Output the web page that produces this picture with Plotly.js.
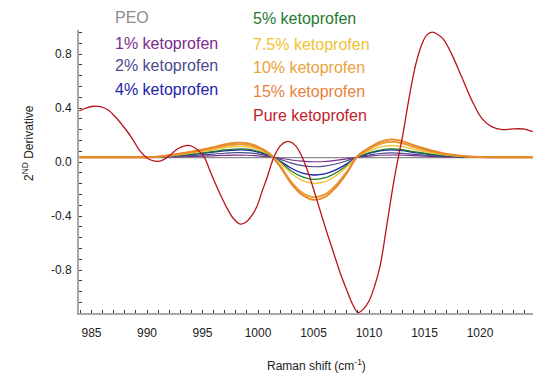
<!DOCTYPE html>
<html>
<head>
<meta charset="utf-8">
<script src="https://cdn.plot.ly/plotly-3.0.1.min.js"></script>
<style>html,body{margin:0;padding:0;background:#fff;}#chart{width:559px;height:378px;}</style>
</head>
<body>
<div id="chart"></div>
<script>
// Shared Raman shift grid for the PEO / ketoprofen blend spectra (cm^-1)
const shiftX = [983.9, 985, 986, 987, 988, 989, 990, 991, 992, 993, 994, 995, 996, 997, 998, 999, 1000,
  1001, 1002, 1003, 1004, 1005, 1006, 1007, 1008, 1009, 1010, 1011, 1012, 1013, 1014, 1015, 1016,
  1017, 1018, 1019, 1020, 1021, 1022, 1023, 1024, 1024.75];

const peo = [0.032, 0.032, 0.032, 0.032, 0.032, 0.032, 0.032, 0.032, 0.032, 0.032, 0.032, 0.032, 0.032, 0.032, 0.032, 0.032, 0.032,
  0.032, 0.032, 0.032, 0.032, 0.032, 0.032, 0.032, 0.032, 0.032, 0.032, 0.032, 0.032, 0.032, 0.032, 0.032, 0.032,
  0.032, 0.032, 0.032, 0.032, 0.032, 0.032, 0.032, 0.032, 0.032];
const keto1 = [0.035, 0.035, 0.035, 0.035, 0.035, 0.035, 0.035, 0.036, 0.037, 0.039, 0.041, 0.043, 0.046, 0.049, 0.051, 0.050, 0.046,
  0.039, 0.028, 0.015, 0.006, 0.002, 0.004, 0.012, 0.023, 0.037, 0.044, 0.050, 0.052, 0.050, 0.047, 0.043, 0.040,
  0.038, 0.037, 0.036, 0.035, 0.035, 0.035, 0.035, 0.035, 0.035];
const keto2 = [0.035, 0.035, 0.035, 0.035, 0.035, 0.035, 0.035, 0.037, 0.040, 0.044, 0.048, 0.053, 0.059, 0.065, 0.069, 0.068, 0.060,
  0.044, 0.020, -0.008, -0.027, -0.035, -0.031, -0.015, 0.009, 0.038, 0.052, 0.063, 0.067, 0.064, 0.057, 0.051, 0.045,
  0.041, 0.038, 0.036, 0.035, 0.035, 0.035, 0.035, 0.035, 0.035];
const keto4 = [0.035, 0.035, 0.035, 0.035, 0.035, 0.035, 0.035, 0.038, 0.043, 0.049, 0.056, 0.064, 0.073, 0.083, 0.089, 0.088, 0.074,
  0.050, 0.006, -0.046, -0.082, -0.096, -0.088, -0.058, -0.013, 0.040, 0.064, 0.082, 0.090, 0.085, 0.072, 0.062, 0.053,
  0.045, 0.041, 0.037, 0.036, 0.035, 0.035, 0.035, 0.035, 0.035];
const keto5 = [0.035, 0.035, 0.035, 0.035, 0.035, 0.035, 0.035, 0.038, 0.044, 0.051, 0.059, 0.068, 0.078, 0.089, 0.096, 0.095, 0.079,
  0.052, -0.001, -0.066, -0.110, -0.128, -0.118, -0.081, -0.025, 0.041, 0.068, 0.088, 0.097, 0.091, 0.077, 0.065, 0.055,
  0.047, 0.041, 0.038, 0.036, 0.035, 0.035, 0.035, 0.035, 0.035];
const keto7_5 = [0.035, 0.035, 0.035, 0.035, 0.035, 0.035, 0.035, 0.039, 0.046, 0.056, 0.066, 0.078, 0.091, 0.106, 0.115, 0.113, 0.092,
  0.057, -0.007, -0.085, -0.137, -0.158, -0.146, -0.102, -0.036, 0.043, 0.082, 0.111, 0.123, 0.114, 0.095, 0.078, 0.063,
  0.052, 0.044, 0.039, 0.036, 0.035, 0.035, 0.035, 0.035, 0.035];
const keto10 = [0.035, 0.035, 0.035, 0.035, 0.035, 0.035, 0.035, 0.039, 0.048, 0.060, 0.072, 0.086, 0.102, 0.119, 0.130, 0.128, 0.104,
  0.061, -0.030, -0.148, -0.228, -0.260, -0.242, -0.174, -0.074, 0.045, 0.096, 0.134, 0.150, 0.139, 0.113, 0.091, 0.072,
  0.057, 0.047, 0.040, 0.037, 0.035, 0.035, 0.035, 0.035, 0.035];
const keto15 = [0.035, 0.035, 0.035, 0.035, 0.035, 0.035, 0.035, 0.040, 0.050, 0.063, 0.077, 0.093, 0.110, 0.130, 0.143, 0.140, 0.113,
  0.065, -0.034, -0.160, -0.245, -0.280, -0.261, -0.189, -0.082, 0.047, 0.105, 0.149, 0.168, 0.155, 0.125, 0.100, 0.078,
  0.060, 0.048, 0.041, 0.037, 0.035, 0.035, 0.035, 0.035, 0.035];

// Pure ketoprofen, read on its own grid
const pureX = [983.9, 984.5, 985.2, 985.8, 986.5, 987.2, 988.0, 988.7, 989.3, 990.0, 990.6, 991.0, 991.5, 992.2, 992.8,
  993.5, 994.1, 994.7, 995.2, 995.6, 996.0, 996.6, 997.2, 997.8, 998.4, 999.0, 999.5, 999.9, 1000.4, 1000.8,
  1001.4, 1002.0, 1002.5, 1002.9, 1003.4, 1003.9, 1004.4, 1005.0, 1005.6, 1006.2, 1006.8, 1007.4, 1008.0, 1008.5,
  1009.0, 1009.5, 1010.0, 1010.5, 1011.0, 1011.6, 1012.2, 1012.7, 1013.0, 1013.6, 1014.2, 1014.8, 1015.2, 1015.7,
  1016.2, 1016.7, 1017.5, 1018.4, 1019.3, 1020.2, 1021.1, 1022.0, 1022.9, 1023.9, 1024.75];
const pureY = [0.378, 0.400, 0.413, 0.410, 0.385, 0.330, 0.250, 0.170, 0.090, 0.030, 0.008, 0.005, 0.018, 0.060, 0.100,
  0.122, 0.115, 0.080, 0.030, -0.050, -0.130, -0.240, -0.340, -0.420, -0.460, -0.440, -0.390, -0.330, -0.210, -0.120,
  0.030, 0.120, 0.150, 0.150, 0.120, 0.050, -0.050, -0.200, -0.360, -0.520, -0.670, -0.820, -0.950, -1.050,
  -1.115, -1.090, -1.030, -0.920, -0.770, -0.470, -0.160, 0.060, 0.180, 0.470, 0.720, 0.880, 0.940, 0.962,
  0.945, 0.910, 0.790, 0.620, 0.450, 0.320, 0.260, 0.240, 0.245, 0.245, 0.225];

const seriesNames = ["PEO", "1% ketoprofen", "2% ketoprofen", "4% ketoprofen", "5% ketoprofen",
  "7.5% ketoprofen", "10% ketoprofen", "15% ketoprofen", "Pure ketoprofen"];
const seriesColors = ["#8c8c8c", "#7b2c8c", "#4b4b8e", "#1e22a8", "#1f7a30",
  "#f0c232", "#e9a23c", "#e8823e", "#c0232b"];
const lineColors = ["#8c8c8c", "#7b2c8c", "#4b4b8e", "#1e22a8", "#1f7a30",
  "#f0c840", "#e89a2c", "#e8882a", "#b8141c"];
const lineWidths = [1.2, 1.2, 1.2, 1.3, 1.3, 1.5, 1.9, 1.9, 1.3];
const blendY = [peo, keto1, keto2, keto4, keto5, keto7_5, keto10, keto15];

const xTicks = [985, 990, 995, 1000, 1005, 1010, 1015, 1020];
const yTicks = [-0.8, -0.4, 0.0, 0.4, 0.8];
const yTickText = ["-0.8", "-0.4", "0.0", "0.4", "0.8"];

const traces = blendY.map((ys, i) => ({
  x: shiftX, y: ys, type: "scatter", mode: "lines", name: seriesNames[i],
  line: {color: lineColors[i], width: lineWidths[i], shape: "spline", smoothing: 1}
}));
traces.push({
  x: pureX, y: pureY, type: "scatter", mode: "lines", name: seriesNames[8],
  line: {color: lineColors[8], width: lineWidths[8], shape: "spline", smoothing: 1}
});

const labelPos = [
  [113, 18], [113, 43], [113, 65], [113, 89],
  [251, 19], [251, 44], [251, 67], [251, 91], [251, 115]
];
const annotations = seriesNames.map((n, i) => ({
  text: n, xref: "paper", yref: "paper", showarrow: false,
  x: (labelPos[i][0] - 79) / 454, y: 1 - (labelPos[i][1] - 30) / 283,
  xanchor: "left", yanchor: "middle",
  font: {family: "Liberation Sans, Arial, sans-serif", size: 16, color: seriesColors[i]}
}));
annotations.push({
  text: "Raman shift (cm<sup>-1</sup>)", xref: "paper", yref: "paper", showarrow: false,
  x: (316 - 79) / 454, y: 1 - (365 - 30) / 283, xanchor: "center", yanchor: "middle",
  font: {family: "Liberation Sans, Arial, sans-serif", size: 12, color: "#222"}
});
annotations.push({
  text: "2<sup>ND</sup> Derivative", xref: "paper", yref: "paper", showarrow: false, textangle: -90,
  x: (28 - 79) / 454, y: 1 - (143 - 30) / 283, xanchor: "center", yanchor: "middle",
  font: {family: "Liberation Sans, Arial, sans-serif", size: 12, color: "#222"}
});

const layout = {
  width: 559, height: 378,
  margin: {l: 79, r: 26, t: 30, b: 65},
  paper_bgcolor: "#ffffff", plot_bgcolor: "#ffffff",
  showlegend: false,
  font: {family: "Liberation Sans, Arial, sans-serif", size: 12, color: "#222"},
  xaxis: {
    range: [983.874, 1024.774], showgrid: false, zeroline: false,
    showline: true, linecolor: "#a8a8a8", linewidth: 2,
    tickmode: "array", tickvals: xTicks, ticks: "inside", ticklen: 3, tickcolor: "#333", tickwidth: 1,
    ticklabelstandoff: 8,
    minor: {dtick: 1, ticks: "inside", ticklen: 3, tickcolor: "#333", tickwidth: 1},
    tickfont: {size: 12, color: "#222"}
  },
  yaxis: {
    range: [-1.1185, 0.978], showgrid: false, zeroline: false,
    showline: true, linecolor: "#a8a8a8", linewidth: 2,
    tickmode: "array", tickvals: yTicks, ticktext: yTickText, ticks: "inside", ticklen: 3, tickcolor: "#333", tickwidth: 1,
    ticklabelstandoff: 3,
    minor: {dtick: 0.08, tick0: 0, ticks: "inside", ticklen: 3, tickcolor: "#333", tickwidth: 1},
    tickfont: {size: 12, color: "#222"}
  },
  annotations: annotations
};

Plotly.newPlot("chart", traces, layout, {staticPlot: true, displayModeBar: false});
</script>
</body>
</html>
